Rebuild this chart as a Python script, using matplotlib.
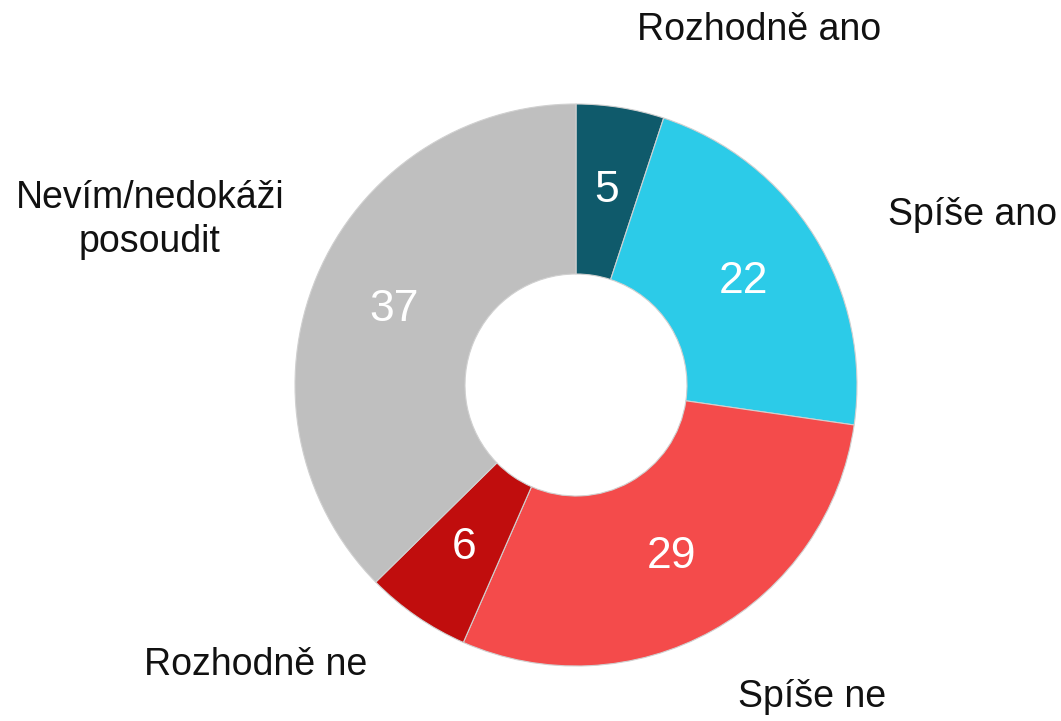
import matplotlib.pyplot as plt

# data
labels = ['Rozhodně ano', 'Spíše ano', 'Spíše ne', 'Rozhodně ne', 'Nevím/nedokáži\nposoudit']
values = [5, 22, 29, 6, 37]
colors = ['#0f5a6b', '#2ccbe8', '#f44b4b', '#c00d0d', '#bfbfbf']

plt.rcParams['font.family'] = ['Liberation Sans', 'DejaVu Sans']

W, H = 1061, 721
fig = plt.figure(figsize=(W / 100, H / 100), dpi=100)
ax = fig.add_axes([0, 0, 1, 1])

cx, cy, R = 576, H - 385, 281
total = sum(values)

wedges, texts, autotexts = ax.pie(
    values, colors=colors, startangle=90, counterclock=False,
    center=(cx, cy), radius=R, frame=True,
    wedgeprops=dict(width=R - 111, edgecolor='#d0d0d0', linewidth=0.8),
    autopct=lambda p: f"{p * total / 100:.0f}", pctdistance=0.70,
    textprops=dict(color='white', fontsize=32))

ax.set_xlim(0, W)
ax.set_ylim(0, H)
ax.axis('off')

# outer labels (pixel positions, y from top)
label_pos = [(759, 30), (972, 215), (812, 697), (256, 665), (150, 220)]
for lab, (x, y) in zip(labels, label_pos):
    ax.text(x, H - y, lab, ha='center', va='center', multialignment='center',
            fontsize=27, color='#111111', linespacing=1.25)

fig.savefig('out.png', dpi=100)
